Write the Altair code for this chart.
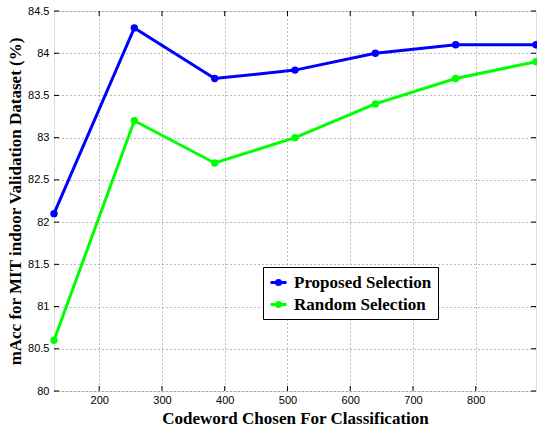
import altair as alt
import pandas as pd

codewords = [128, 256, 384, 512, 640, 768, 896]
proposed = [82.1, 84.3, 83.7, 83.8, 84.0, 84.1, 84.1]
random_sel = [80.6, 83.2, 82.7, 83.0, 83.4, 83.7, 83.9]
series_names = ["Proposed Selection", "Random Selection"]
series_colors = ["#0000ff", "#00ff00"]
x_ticks = [200, 300, 400, 500, 600, 700, 800]
y_ticks = [80, 80.5, 81, 81.5, 82, 82.5, 83, 83.5, 84, 84.5]

W, H = 482, 380

rows = []
for c, p, r in zip(codewords, proposed, random_sel):
    rows.append({"x": c, "y": p, "s": series_names[0]})
    rows.append({"x": c, "y": r, "s": series_names[1]})
df = pd.DataFrame(rows)
xt = pd.DataFrame({"x": x_ticks})
yt = pd.DataFrame({"y": y_ticks})

xscale = alt.Scale(domain=[128, 896], nice=False, zero=False)
yscale = alt.Scale(domain=[80, 84.5], nice=False, zero=False)

legend_path = "M-1,0H1M-0.25,0a0.25,0.25 0 1,0 0.5,0a0.25,0.25 0 1,0 -0.5,0"

lines = alt.Chart(df).mark_line(
    strokeWidth=3,
    point=alt.OverlayMarkDef(filled=True, size=55),
).encode(
    x=alt.X("x:Q", scale=xscale,
            axis=alt.Axis(values=x_ticks, title="Codeword Chosen For Classification",
                          format="d",
                          grid=True, gridDash=[1, 3], gridColor="#777", gridWidth=1,
                          ticks=False, domain=False, labelFont="Liberation Sans",
                          labelFontSize=11, labelColor="#000", labelPadding=3,
                          titleFont="Liberation Serif", titleFontSize=17,
                          titleFontWeight="bold", titleColor="#000", titlePadding=5)),
    y=alt.Y("y:Q", scale=yscale,
            axis=alt.Axis(values=y_ticks, title="mAcc for MIT indoor Validation Dataset (%)",
                          format="~g",
                          grid=True, gridDash=[1, 3], gridColor="#777", gridWidth=1,
                          ticks=False, domain=False, labelFont="Liberation Sans",
                          labelFontSize=11, labelColor="#000", labelPadding=5,
                          titleFont="Liberation Serif", titleFontSize=17,
                          titleFontWeight="bold", titleColor="#000", titlePadding=3)),
    color=alt.Color("s:N", scale=alt.Scale(domain=series_names, range=series_colors),
                    legend=alt.Legend(title=None, orient="none", legendX=209, legendY=256,
                                      symbolType=legend_path, symbolSize=256,
                                      symbolStrokeWidth=3, labelFont="Liberation Serif",
                                      labelFontSize=17, labelFontWeight="bold",
                                      labelColor="#000", strokeColor="#000",
                                      fillColor="#fff", padding=6, rowPadding=4,
                                      labelOffset=6, labelLimit=300)),
)

tick_color = "#000"
xb = alt.Chart(xt).mark_rule(color=tick_color).encode(
    x=alt.X("x:Q", scale=xscale), y=alt.value(H), y2=alt.value(H - 5))
xtop = alt.Chart(xt).mark_rule(color=tick_color).encode(
    x=alt.X("x:Q", scale=xscale), y=alt.value(0), y2=alt.value(5))
yl = alt.Chart(yt).mark_rule(color=tick_color).encode(
    y=alt.Y("y:Q", scale=yscale), x=alt.value(0), x2=alt.value(5))
yr = alt.Chart(yt).mark_rule(color=tick_color).encode(
    y=alt.Y("y:Q", scale=yscale), x=alt.value(W), x2=alt.value(W - 5))

chart = alt.layer(xb, xtop, yl, yr, lines).properties(
    width=W, height=H,
    autosize=alt.AutoSizeParams(type="none"),
    padding={"left": 54, "top": 11, "right": 1, "bottom": 38},
).configure_view(stroke="#000", strokeWidth=1.5).configure_legend(
    strokeWidth=2
).configure(background="#fff")

chart.save("out.html", embed_options={"renderer": "svg", "actions": False})
